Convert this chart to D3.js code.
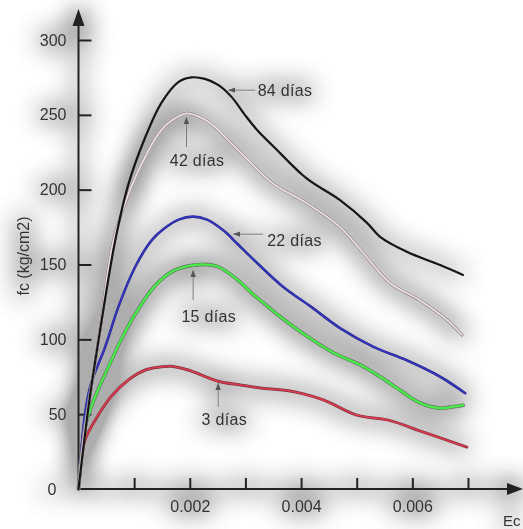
<!DOCTYPE html>
<html>
<head>
<meta charset="utf-8">
<script src="https://cdn.jsdelivr.net/npm/d3@7"></script>
<style>
    body { margin: 0; background: #fff; }
    svg { display: block; font-family: "Liberation Sans", Arial, sans-serif; }
</style>
</head>
<body>
<div id="chart"></div>
<script>
// strain ticks (Ec) and stress ticks (fc, kg/cm2)
const xTicks = [0.001, 0.002, 0.003, 0.004, 0.005, 0.006, 0.007];
const xLabels = [0.002, 0.004, 0.006];
const yTicks = [50, 100, 150, 200, 250, 300];

// curves: [strain, fc]
const dias84 = [
    [0, 0], [0.00018, 55], [0.00036, 99.5], [0.00066, 166], [0.0009, 204],
    [0.0012, 235], [0.00149, 258], [0.0018, 272], [0.00203, 275], [0.00227, 274],
    [0.00251, 270], [0.00275, 262], [0.00299, 250], [0.00323, 239], [0.0035, 229],
    [0.0041, 207.5], [0.0047, 193], [0.00518, 178], [0.00542, 168.5], [0.0059, 158.5],
    [0.0065, 149.6], [0.00691, 143]
];
const dias42 = [
    [0, 0], [0.00009, 33], [0.00027, 77.5], [0.0004, 110], [0.00063, 166],
    [0.00095, 202], [0.0012, 222], [0.00149, 240], [0.0018, 249], [0.00194, 251],
    [0.00221, 248], [0.00245, 242], [0.00269, 233], [0.00299, 222], [0.0035, 204],
    [0.0041, 191], [0.0047, 175], [0.00512, 157.6], [0.0056, 137.6], [0.00614, 126],
    [0.00662, 113], [0.00689, 103]
];
const dias22 = [
    [0, 0], [0.00012, 51], [0.00023, 71], [0.00048, 95], [0.00072, 122],
    [0.00102, 148.5], [0.00131, 166], [0.00154, 174], [0.0018, 180], [0.00205, 182],
    [0.00231, 180], [0.00263, 172], [0.00285, 164], [0.00321, 151], [0.00368, 135],
    [0.00417, 122], [0.0047, 107.5], [0.0053, 95], [0.0059, 86], [0.0065, 75],
    [0.00695, 64]
];
const dias15 = [
    [0, 0], [0.00012, 41.6], [0.0003, 61.7], [0.00054, 81.7], [0.00077, 100],
    [0.00102, 117], [0.00138, 136], [0.00167, 145], [0.00197, 149], [0.00227, 150],
    [0.00251, 148.5], [0.00285, 140], [0.00311, 131], [0.00327, 126], [0.00363, 115],
    [0.00411, 102], [0.00458, 91], [0.00506, 83], [0.00542, 75], [0.00578, 66],
    [0.00614, 57.5], [0.0065, 54], [0.00673, 55], [0.00691, 56]
];
const dias3 = [
    [0, 0], [0.00005, 19], [0.00012, 33], [0.0003, 46], [0.00059, 62],
    [0.0009, 73], [0.0012, 79.5], [0.00147, 81.5], [0.00167, 82], [0.00197, 79.5],
    [0.00251, 72], [0.00291, 69.5], [0.00327, 67.5], [0.0038, 65.5], [0.0044, 59.5],
    [0.005, 49.4], [0.00557, 46], [0.0062, 38], [0.00698, 28]
];

// annotation: arrow tip on the curve, arrow tail, label position (all in data units)
const labels = ["84 días", "42 días", "22 días", "15 días", "3 días"];
const arrowTips = [[0.00269, 266.5], [0.00194, 248.5], [0.00278, 170.3], [0.00206, 146.3], [0.00251, 70.8]];
const arrowTails = [[0.00318, 266.5], [0.00194, 228.5], [0.00332, 170.3], [0.00206, 126.3], [0.00251, 54.8]];
const labelPos = [[0.00322, 266.5], [0.00213, 219.8], [0.00339, 166.3], [0.00234, 115.6], [0.00262, 46.8]];
const labelAnchor = ["start", "middle", "start", "middle", "middle"];

const width = 523;
const height = 529;

const x = d3.scaleLinear().domain([0, 0.007]).range([78.5, 468]);
const y = d3.scaleLinear().domain([0, 300]).range([489, 40]);

const svg = d3.select("#chart")
    .append("svg")
    .attr("width", width)
    .attr("height", height);

const defs = svg.append("defs");

// soft grey halo round everything, like the scanned figure
const halo = defs.append("filter")
    .attr("id", "halo")
    .attr("filterUnits", "userSpaceOnUse")
    .attr("x", 0).attr("y", 0)
    .attr("width", width).attr("height", height);
halo.append("feGaussianBlur")
    .attr("in", "SourceAlpha")
    .attr("stdDeviation", 13)
    .attr("result", "blur");
const transfer = halo.append("feComponentTransfer")
    .attr("in", "blur")
    .attr("result", "blurA");
transfer.append("feFuncA").attr("type", "linear").attr("slope", 6);
halo.append("feFlood").attr("flood-color", "#000").attr("flood-opacity", 0.32).attr("result", "flood");
halo.append("feComposite").attr("in", "flood").attr("in2", "blurA").attr("operator", "in").attr("result", "shadow");
const merge = halo.append("feMerge");
merge.append("feMergeNode").attr("in", "shadow");
merge.append("feMergeNode").attr("in", "SourceGraphic");

defs.append("marker")
    .attr("id", "tip")
    .attr("viewBox", "0 0 10 10")
    .attr("refX", 10).attr("refY", 5)
    .attr("markerWidth", 7).attr("markerHeight", 7)
    .attr("markerUnits", "userSpaceOnUse")
    .attr("orient", "auto")
    .append("path")
    .attr("d", "M0,1 L10,5 L0,9 Z")
    .attr("fill", "#555");

const g = svg.append("g").attr("filter", "url(#halo)");

// axes
const yAxis = d3.axisLeft(y)
    .tickValues(yTicks)
    .tickSizeInner(-13)
    .tickSizeOuter(0)
    .tickPadding(12);

const xAxis = d3.axisBottom(x)
    .tickValues(xTicks)
    .tickSizeInner(-11)
    .tickSizeOuter(0)
    .tickPadding(12)
    .tickFormat(d => xLabels.some(v => Math.abs(v - d) < 1e-9) ? d3.format(".3f")(d) : "");

const gy = g.append("g")
    .attr("transform", "translate(" + x(0) + ",0)")
    .call(yAxis);
const gx = g.append("g")
    .attr("transform", "translate(0," + y(0) + ")")
    .call(xAxis);

[gx, gy].forEach(a => {
    a.select(".domain").remove();
    a.selectAll(".tick line").attr("stroke", "#222").attr("stroke-width", 2);
    a.selectAll(".tick text")
        .attr("fill", "#333")
        .attr("font-size", 16)
        .attr("font-family", "Liberation Sans, Arial, sans-serif");
});

g.append("text")
    .text("0")
    .attr("x", x(0) - 22)
    .attr("y", y(0))
    .attr("dy", "0.35em")
    .attr("text-anchor", "end")
    .attr("font-size", 16)
    .attr("fill", "#333");

// axis lines with arrow heads
g.append("line")
    .attr("x1", x(0)).attr("y1", y(0) + 1)
    .attr("x2", x(0)).attr("y2", 22)
    .attr("stroke", "#222").attr("stroke-width", 2);
g.append("path")
    .attr("d", "M" + (x(0) - 6) + ",26 L" + x(0) + ",9 L" + (x(0) + 6) + ",26 Z")
    .attr("fill", "#222");

g.append("line")
    .attr("x1", x(0) - 1).attr("y1", y(0))
    .attr("x2", 510).attr("y2", y(0))
    .attr("stroke", "#222").attr("stroke-width", 2);
g.append("path")
    .attr("d", "M507," + (y(0) - 6) + " L523," + y(0) + " L507," + (y(0) + 6) + " Z")
    .attr("fill", "#222");

g.append("text")
    .text("fc (kg/cm2)")
    .attr("transform", "translate(23,256) rotate(-90)")
    .attr("text-anchor", "middle")
    .attr("dy", "0.35em")
    .attr("font-size", 16)
    .attr("fill", "#333");

g.append("text")
    .text("Ec")
    .attr("x", 503)
    .attr("y", 521)
    .attr("dy", "0.35em")
    .attr("font-size", 15)
    .attr("fill", "#333");

// curves
const line = d3.line()
    .x(d => x(d[0]))
    .y(d => y(d[1]))
    .curve(d3.curveCatmullRom.alpha(0.5));

const curves = g.append("g").attr("fill", "none").attr("stroke-linejoin", "round").attr("stroke-linecap", "round");

function drawCurve(data, outer, outerW, inner, innerW) {
    curves.append("path").attr("d", line(data)).attr("stroke", outer).attr("stroke-width", outerW);
    if (inner)
        curves.append("path").attr("d", line(data)).attr("stroke", inner).attr("stroke-width", innerW);
}

drawCurve(dias3, "#7a3b44", 3, "#e0384c", 1.6);
drawCurve(dias15, "#6f7f6f", 4, "#44ee44", 2.2);
drawCurve(dias22, "#2a2a7a", 2.6, "#3434c0", 1.6);
drawCurve(dias42, "#9a8e96", 3.6, "#eadde4", 1.8);
drawCurve(dias84, "#151515", 2.2);

// annotations
const notes = g.append("g");
labels.forEach((lab, i) => {
    notes.append("line")
        .attr("x1", x(arrowTails[i][0])).attr("y1", y(arrowTails[i][1]))
        .attr("x2", x(arrowTips[i][0])).attr("y2", y(arrowTips[i][1]))
        .attr("stroke", "#777")
        .attr("stroke-width", 1)
        .attr("marker-end", "url(#tip)");
    notes.append("text")
        .text(lab)
        .attr("x", x(labelPos[i][0]))
        .attr("y", y(labelPos[i][1]))
        .attr("dy", "0.35em")
        .attr("text-anchor", labelAnchor[i])
        .attr("font-size", 16)
        .attr("letter-spacing", 0.3)
        .attr("fill", "#333");
});
</script>
</body>
</html>
